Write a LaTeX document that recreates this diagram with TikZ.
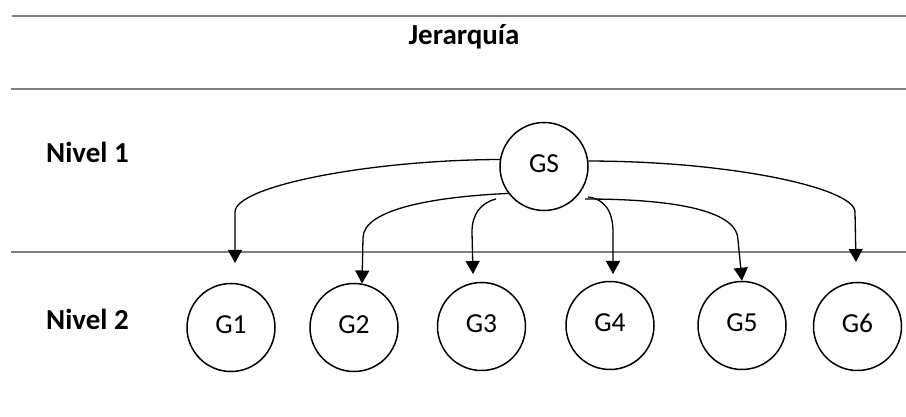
\documentclass[tikz,border=0pt]{standalone}
\usepackage{fontspec}
\setmainfont{Carlito}
\usetikzlibrary{arrows.meta}
\definecolor{rulegray}{RGB}{128,128,128}
\begin{document}
\begin{tikzpicture}[x=1pt,y=-1pt,
  rule/.style={draw=rulegray, line width=2pt},
  grp/.style={draw=black, circle, line width=1.5pt, minimum size=88pt, inner sep=0pt, text height=17pt, text depth=5pt, font=\fontsize{27.5}{29}\selectfont},
  lvl/.style={font=\bfseries\fontsize{29}{31}\selectfont, inner sep=0pt},
  conn/.style={draw=black, line width=1.3pt, -{Triangle[width=14pt,length=13pt]}}]
\useasboundingbox (0,0) rectangle (906,417);
\fill[white] (0,0) rectangle (906,417);
% rules
\coordinate (r1a) at (12,16.5); \coordinate (r1b) at (906,16.5);
\coordinate (r2a) at (11,89); \coordinate (r2b) at (906,89);
\coordinate (r3a) at (11,252); \coordinate (r3b) at (906,252);
\draw[rule] (r1a) -- (r1b);
\draw[rule] (r2a) -- (r2b);
\draw[rule] (r3a) -- (r3b);
% labels
\node[lvl, anchor=base] (title) at (464,45) {Jerarquía};
\node[lvl, anchor=base west] (n1) at (46,163) {Nivel 1};
\node[lvl, anchor=base west] (n2) at (46,329) {Nivel 2};
% nodes
\node[grp] (GS) at (544,166.5) {GS};
\node[grp] (G1) at (231,327.5) {G1};
\node[grp] (G2) at (354,327.5) {G2};
\node[grp] (G3) at (481.5,326.5) {G3};
\node[grp] (G4) at (610,325.5) {G4};
\node[grp] (G5) at (742,325.5) {G5};
\node[grp] (G6) at (857.5,326.5) {G6};
% free ends
\coordinate (s3) at (496,199);
\coordinate (s4) at (588,197);
\coordinate (s5) at (585,199);
\coordinate (t1) at (235,263);
\coordinate (t2) at (362,283.5);
\coordinate (t3) at (473,274);
\coordinate (t4) at (613,274);
\coordinate (t6) at (856,262);
% connectors
\draw[conn] (GS.171) .. controls (370,160) and (235,186) .. (235,212) -- (t1);
\draw[conn] (GS.217) .. controls (430,197) and (363,210) .. (363,238) -- (t2);
\draw[conn] (s3) .. controls (480,203) and (472,215) .. (472,232) -- (t3);
\draw[conn] (s4) .. controls (605,199) and (613,212) .. (613,232) -- (t4);
\draw[conn] (s5) .. controls (680,199) and (738,212) .. (738,240) -- (G5.north);
\draw[conn] (GS.7) .. controls (730,161) and (855,188) .. (855,212) -- (t6);
\end{tikzpicture}
\end{document}
